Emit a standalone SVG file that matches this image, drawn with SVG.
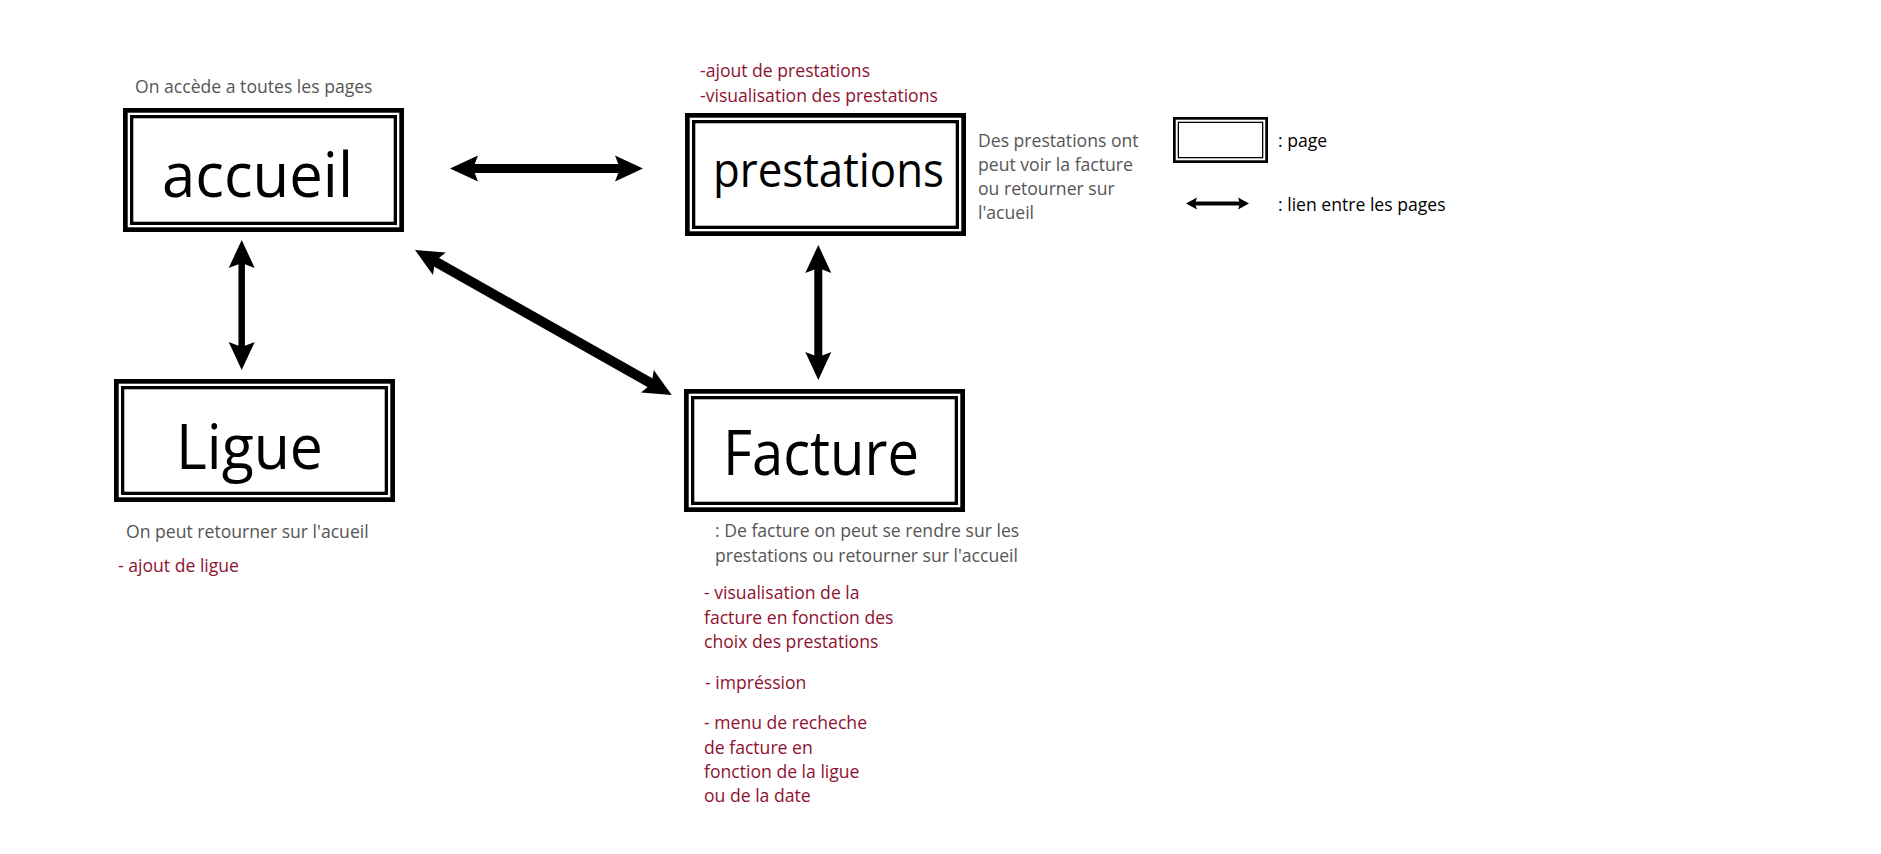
<svg xmlns="http://www.w3.org/2000/svg" width="1881" height="854" viewBox="0 0 1881 854">
<style>
  .outer { fill: #fff; stroke: #000; stroke-width: 4.7; }
  .inner { fill: none; stroke: #000; stroke-width: 3.3; }
  .big { font-family: "Open Sans", "Noto Sans", sans-serif; fill: #000; }
  .t { font-family: "Open Sans", "Noto Sans", sans-serif; font-size: 17.6px; }
  .gray { fill: #555555; }
  .red { fill: #8E1230; }
  .blk { fill: #000; }
  .link { stroke: #000; fill: none; marker-start: url(#head); marker-end: url(#head); }
</style>
<defs>
  <marker id="head" markerUnits="userSpaceOnUse" viewBox="-2 -16 34 32" markerWidth="34" markerHeight="32" refX="8" refY="0" orient="auto-start-reverse" overflow="visible">
    <path d="M0,-13 L28,0 L0,13 L5,0 Z" fill="#000"/>
  </marker>
  <marker id="small" markerUnits="userSpaceOnUse" viewBox="-2 -8 16 16" markerWidth="16" markerHeight="16" refX="4" refY="0" orient="auto-start-reverse" overflow="visible">
    <path d="M0,-6 L11,0 L0,6 L2,0 Z" fill="#000"/>
  </marker>
</defs>
<rect width="1881" height="854" fill="#fff"/>

<g id="connectors">
  <line class="link" x1="470" y1="168.5" x2="623" y2="168.5" stroke-width="9"/>
  <line class="link" x1="241.7" y1="260" x2="241.7" y2="350" stroke-width="6.5"/>
  <line class="link" x1="818.3" y1="265" x2="818.3" y2="360" stroke-width="8"/>
  <line class="link" x1="432.4" y1="259.8" x2="654.3" y2="385.2" stroke-width="10"/>
</g>

<g id="accueil">
  <text class="t gray" x="135" y="93">On accède a toutes les pages</text>
  <rect class="outer" x="125.35" y="110.35" width="276.3" height="119.3"/>
  <rect class="inner" x="131.65" y="116.65" width="263.7" height="106.7"/>
  <text class="big" x="162" y="196.7" font-size="63" textLength="191" lengthAdjust="spacingAndGlyphs">accueil</text>
</g>

<g id="prestations">
  <text class="t red" x="700" y="76.7">-ajout de prestations</text>
  <text class="t red" x="700" y="102">-visualisation des prestations</text>
  <rect class="outer" x="687.35" y="115.35" width="276.3" height="118.3"/>
  <rect class="inner" x="693.65" y="121.65" width="263.7" height="105.7"/>
  <text class="big" x="713" y="187.3" font-size="47" textLength="231" lengthAdjust="spacingAndGlyphs">prestations</text>
  <text class="t gray" x="978" y="146.7">Des prestations ont</text>
  <text class="t gray" x="978" y="171">peut voir la facture</text>
  <text class="t gray" x="978" y="195">ou retourner sur</text>
  <text class="t gray" x="978" y="219.3">l'acueil</text>
</g>

<g id="ligue">
  <rect class="outer" x="116.35" y="381.35" width="276.3" height="118.3"/>
  <rect class="inner" x="122.65" y="387.65" width="263.7" height="105.7"/>
  <text class="big" x="176" y="469" font-size="63" textLength="147" lengthAdjust="spacingAndGlyphs">Ligue</text>
  <text class="t gray" x="126" y="538">On peut retourner sur l'acueil</text>
  <text class="t red" x="118" y="572">- ajout de ligue</text>
</g>

<g id="facture">
  <rect class="outer" x="686.35" y="391.35" width="276.3" height="118.3"/>
  <rect class="inner" x="692.65" y="397.65" width="263.7" height="105.7"/>
  <text class="big" x="723" y="475" font-size="63" textLength="196" lengthAdjust="spacingAndGlyphs">Facture</text>
  <text class="t gray" x="715" y="536.7">: De facture on peut se rendre sur les</text>
  <text class="t gray" x="715" y="561.7">prestations ou retourner sur l'accueil</text>
  <text class="t red" x="704" y="599.3">- visualisation de la</text>
  <text class="t red" x="704" y="624">facture en fonction des</text>
  <text class="t red" x="704" y="648.3">choix des prestations</text>
  <text class="t red" x="705" y="689.3">- impréssion</text>
  <text class="t red" x="704" y="729.3">- menu de recheche</text>
  <text class="t red" x="704" y="754.3">de facture en</text>
  <text class="t red" x="704" y="778.3">fonction de la ligue</text>
  <text class="t red" x="704" y="802.3">ou de la date</text>
</g>

<g id="legend">
  <rect x="1174.35" y="118.35" width="92.3" height="43.3" fill="#fff" stroke="#000" stroke-width="2.7"/>
  <rect x="1178.35" y="122.35" width="84.3" height="35.3" fill="none" stroke="#000" stroke-width="1.3"/>
  <text class="t blk" x="1278" y="146.5">: page</text>
  <line x1="1193" y1="203.5" x2="1242" y2="203.5" stroke="#000" stroke-width="4" marker-start="url(#small)" marker-end="url(#small)"/>
  <text class="t blk" x="1278" y="211">: lien entre les pages</text>
</g>
</svg>
